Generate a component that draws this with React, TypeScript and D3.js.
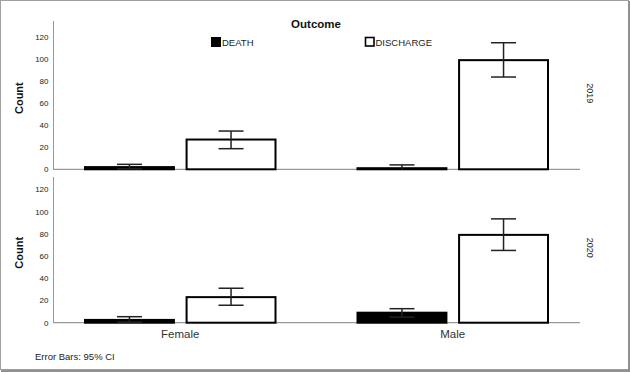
import React from "react";
import * as d3 from "d3";

const genders = ["Female", "Male"];
const outcomes = ["DEATH", "DISCHARGE"];
const years = ["2019", "2020"];
const yTicks = [0, 20, 40, 60, 80, 100, 120];

// values per year: [Female, Male]
const death2019 = [2, 1];
const death2019Lo = [0.4, 0];
const death2019Hi = [4.5, 4];
const discharge2019 = [27, 99];
const discharge2019Lo = [18.7, 83.7];
const discharge2019Hi = [34.7, 114.8];

const death2020 = [2.5, 9];
const death2020Lo = [0.5, 5];
const death2020Hi = [5.4, 12.6];
const discharge2020 = [23, 79];
const discharge2020Lo = [15.7, 65];
const discharge2020Hi = [31, 93.4];

const panels = [
  { year: years[0], death: death2019, deathLo: death2019Lo, deathHi: death2019Hi, dis: discharge2019, disLo: discharge2019Lo, disHi: discharge2019Hi, base: 169.3, top120: 37, axisTop: 21 },
  { year: years[1], death: death2020, deathLo: death2020Lo, deathHi: death2020Hi, dis: discharge2020, disLo: discharge2020Lo, disHi: discharge2020Hi, base: 322.7, top120: 189.3, axisTop: 177 },
];

const FONT = "'Liberation Sans', Arial, Helvetica, sans-serif";

export default function App() {
  const W = 630, H = 372;
  const x0 = d3.scaleBand<string>().domain(genders).range([44, 589]).padding(0);
  const x1 = d3.scaleBand<string>().domain(outcomes).range([40, 232.5]).paddingInner(0.105);
  const capW = 25;

  return (
    <svg width={W} height={H} style={{ position: "absolute", left: 0, top: 0, background: "#fff" }} fontFamily={FONT}>
      <rect x={0.5} y={0.5} width={628} height={369} fill="#fff" stroke="#a0a0a0" strokeWidth={1} />
      <line x1={629} y1={1} x2={629} y2={371} stroke="#909090" strokeWidth={2} />
      <line x1={1} y1={371} x2={630} y2={371} stroke="#909090" strokeWidth={2} />

      <text x={316} y={28} textAnchor="middle" fontSize={11.5} fontWeight="bold" fill="#111">Outcome</text>
      {/* legend */}
      <rect x={211.5} y={37.5} width={9} height={9} fill="#000" stroke="#000" strokeWidth={1} />
      <text x={222} y={46} fontSize={9.5} fill="#222">{outcomes[0]}</text>
      <rect x={365.5} y={37.5} width={8.5} height={8.5} fill="#fff" stroke="#000" strokeWidth={1.6} />
      <text x={375.5} y={46} fontSize={9.5} fill="#222">{outcomes[1]}</text>

      {panels.map((p, pi) => {
        const y = d3.scaleLinear().domain([0, 120]).range([p.base, p.top120]);
        return (
          <g key={pi}>
            <line x1={53.5} y1={p.axisTop} x2={53.5} y2={p.base} stroke="#999" strokeWidth={1} />
            <line x1={53} y1={p.base} x2={580} y2={p.base} stroke="#999" strokeWidth={1.2} />
            {yTicks.map((t) => (
              <text key={t} x={48.5} y={y(t) + 3} textAnchor="end" fontSize={8} fill="#222">{t}</text>
            ))}
            <text transform={`translate(23,${(p.axisTop + p.base) / 2 + 3}) rotate(-90)`} textAnchor="middle" fontSize={11} fontWeight="bold" fill="#111">Count</text>
            <text transform={`translate(587,${(p.axisTop + p.base) / 2 - 2}) rotate(90)`} textAnchor="middle" fontSize={9} fill="#222">{p.year}</text>
            {genders.map((g, gi) => {
              const gx = x0(g)!;
              const series = [
                { o: outcomes[0], v: p.death[gi], lo: p.deathLo[gi], hi: p.deathHi[gi], fill: "#000" },
                { o: outcomes[1], v: p.dis[gi], lo: p.disLo[gi], hi: p.disHi[gi], fill: "#fff" },
              ];
              return (
                <g key={g}>
                  {series.map((s) => {
                    const bx = gx + x1(s.o)!;
                    const bw = x1.bandwidth();
                    const cx = bx + bw / 2;
                    return (
                      <g key={s.o}>
                        <rect x={bx + 1} y={y(s.v)} width={bw - 2} height={Math.max(0.5, p.base - y(s.v))} fill={s.fill} stroke="#000" strokeWidth={2} />
                        <line x1={cx} y1={y(s.hi)} x2={cx} y2={y(s.lo)} stroke="#222" strokeWidth={1.5} />
                        <line x1={cx - capW / 2} y1={y(s.hi)} x2={cx + capW / 2} y2={y(s.hi)} stroke="#222" strokeWidth={1.5} />
                        {s.lo > 0.3 && (
                          <line x1={cx - capW / 2} y1={y(s.lo)} x2={cx + capW / 2} y2={y(s.lo)} stroke="#222" strokeWidth={1.5} />
                        )}
                      </g>
                    );
                  })}
                </g>
              );
            })}
          </g>
        );
      })}

      {genders.map((g) => (
        <text key={g} x={x0(g)! + x0.bandwidth() / 2} y={338} textAnchor="middle" fontSize={11.5} fill="#333">{g}</text>
      ))}
      <text x={35} y={360} fontSize={9.5} fill="#222">Error Bars: 95% CI</text>
    </svg>
  );
}
